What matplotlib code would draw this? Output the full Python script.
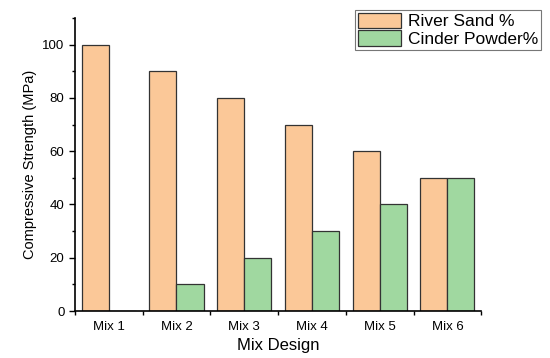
import matplotlib
matplotlib.use("Agg")
import matplotlib.pyplot as plt
import numpy as np

plt.rcParams['font.family'] = ['Liberation Sans', 'DejaVu Sans']

mixes = ["Mix 1", "Mix 2", "Mix 3", "Mix 4", "Mix 5", "Mix 6"]
river_sand = [100, 90, 80, 70, 60, 50]
cinder_powder = [0, 10, 20, 30, 40, 50]

fig = plt.figure(figsize=(5.5, 3.58), dpi=100)
ax = fig.add_axes([0.136, 0.131, 0.739, 0.819])

x = np.arange(1, len(mixes) + 1)
w = 0.4
ax.bar(x - w / 2, river_sand, w, color='#fbc898', edgecolor='#333333', linewidth=0.9,
       label='River Sand %')
ax.bar(x + w / 2, cinder_powder, w, color='#a0d8a0', edgecolor='#333333', linewidth=0.9,
       label='Cinder Powder%')

ax.set_xlim(0.5, 6.5)
ax.set_ylim(0, 110)
ax.set_xticks(x)
ax.set_xticklabels(mixes)
ax.set_xticks(np.arange(0.5, 7, 1), minor=True)
ax.set_yticks(np.arange(0, 101, 20))
ax.set_yticks(np.arange(10, 111, 20), minor=True)
ax.tick_params(axis='x', which='major', length=0, labelsize=9.5, pad=7)
ax.tick_params(axis='x', which='minor', length=3, width=1)
ax.tick_params(axis='y', which='major', length=4, width=1, labelsize=9.5)
ax.tick_params(axis='y', which='minor', length=2.5, width=1)

for s in ['top', 'right']:
    ax.spines[s].set_visible(False)
for s in ['left', 'bottom']:
    ax.spines[s].set_linewidth(1.2)

ax.set_xlabel("Mix Design", fontsize=12, labelpad=4)
ax.set_ylabel("Compressive Strength (MPa)", fontsize=10.5)

leg = ax.legend(loc='upper right', bbox_to_anchor=(541 / 550, 1 - 10 / 358),
                bbox_transform=fig.transFigure, fontsize=12.5,
                frameon=True, fancybox=False, edgecolor='#555555', borderpad=0.15,
                handlelength=2.5, handleheight=1.0, handletextpad=0.4, labelspacing=0.05,
                borderaxespad=0)
leg.get_frame().set_linewidth(0.8)

fig.savefig("out.png", dpi=100)
